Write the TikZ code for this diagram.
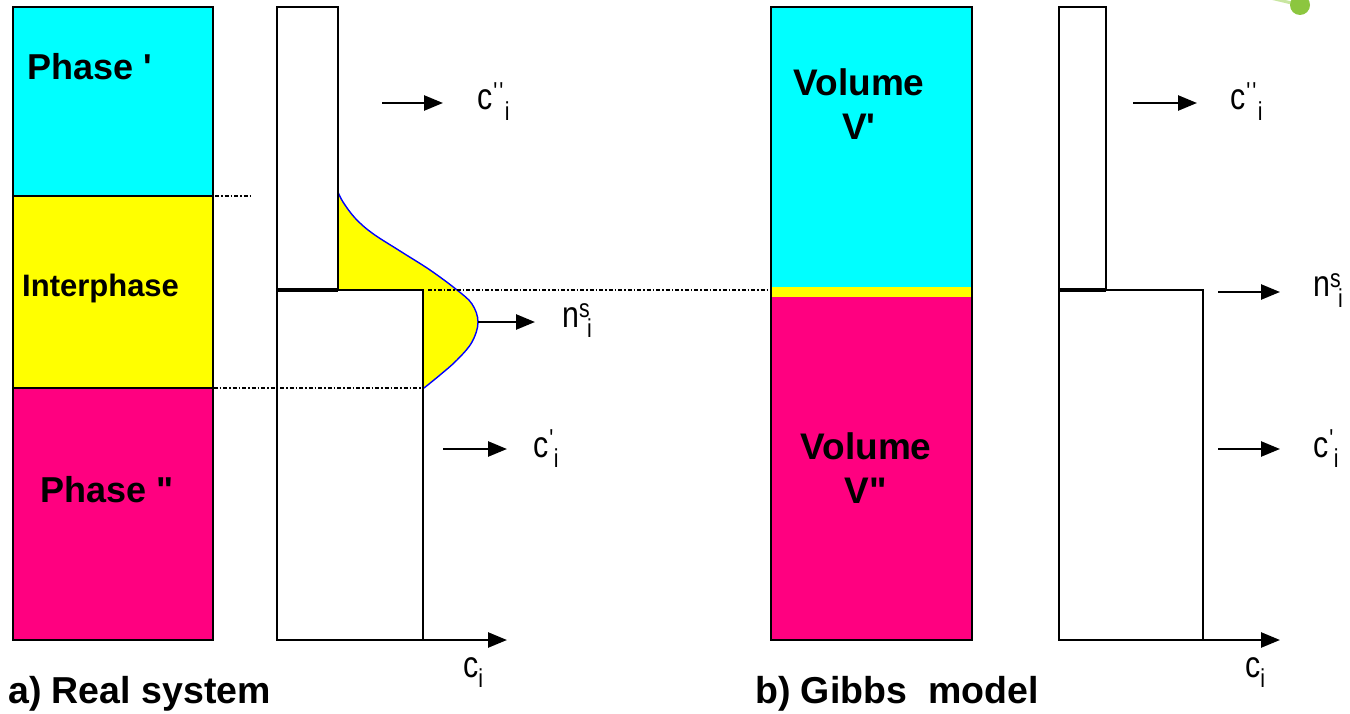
\documentclass[tikz,border=0pt]{standalone}
\usepackage{fontspec}
\setmainfont{Liberation Sans}[Ligatures=TeXOff]
\newfontfamily\narrowsans{Liberation Sans}[Ligatures=TeXOff,FakeStretch=0.82]
\usetikzlibrary{arrows.meta}
\definecolor{cy}{HTML}{00FFFF}
\definecolor{ye}{HTML}{FFFF00}
\definecolor{ma}{HTML}{FF0080}
\definecolor{gr}{HTML}{8CC63F}
\definecolor{lgr}{HTML}{C8E6A0}
\newcommand\cpp{c\kern1pt\textsuperscript{'\kern2pt'}\kern1pt\textsubscript{i}}
\newcommand\cpr{c\kern1pt\textsuperscript{'}\textsubscript{i}}
\newcommand\nsi{n\textsuperscript{s}\kern-3pt\textsubscript{i}}
\newcommand\cii{c\textsubscript{i}}
\begin{document}
\begin{tikzpicture}[x=1pt,y=-1pt,
  box/.style={draw=black,line width=2.6pt},
  arr/.style={line width=2.5pt,-{Triangle[length=19pt,width=15pt]}},
  dotl/.style={line width=1.9pt,dash pattern=on 4pt off 2pt on 1.5pt off 2pt},
  big/.style={font=\fontsize{36}{44}\selectfont\bfseries,inner sep=0pt,anchor=base west},
  captext/.style={font=\fontsize{37.5}{44}\selectfont\bfseries,inner sep=0pt,anchor=base west},
  lab/.style={font=\narrowsans\fontsize{37}{40}\selectfont,inner sep=0pt,anchor=base west},
  vol/.style={font=\fontsize{37}{44}\selectfont\bfseries,inner sep=0pt,align=center,anchor=base}]
\useasboundingbox (0,0) rectangle (1350,714);
\fill[white] (0,0) rectangle (1350,714);

% ---------- a) Real system: phases column
\fill[cy] (13,7) rectangle (213,196);
\fill[ye] (13,196) rectangle (213,388);
\fill[ma] (13,388) rectangle (213,640);
\draw[box] (13,7) rectangle (213,640);
\draw[box] (13,196) -- (213,196);
\draw[box] (13,388) -- (213,388);
\node[big] (ph1) at (27,80) {Phase '};
\node[font=\fontsize{31}{34}\selectfont\bfseries,inner sep=0pt,anchor=base west] (inter) at (22,297) {Interphase};
\node[big] (ph2) at (40,502) {Phase "};

% ---------- a) concentration profile
\fill[ye] plot[smooth,tension=0.6] coordinates {(338,192) (343,202) (355,218) (372,233) (400,251) (430,270) (457,290) (472,304) (478,322) (472,342) (457,360) (440,375) (424,388)}
  -- (423,290) -- (338,290) -- cycle;
\draw[blue,line width=1.4pt] plot[smooth,tension=0.6] coordinates {(338,192) (343,202) (355,218) (372,233) (400,251) (430,270) (457,290) (472,304) (478,322) (472,342) (457,360) (440,375) (424,388)};
\draw[box] (277,7) rectangle (338,290);
\draw[box] (277,290) rectangle (423,640);
\draw[line width=4pt] (277,290) -- (338,290);

\draw[dotl] (215,196) -- (252,196);
\draw[dotl] (185,388) -- (423,388);
\draw[dotl] (428,290) -- (771,290);

\coordinate (a1s) at (382,103); \coordinate (a1e) at (443,103);
\coordinate (a2s) at (478,322); \coordinate (a2e) at (535,322);
\coordinate (a3s) at (443,449); \coordinate (a3e) at (507,449);
\coordinate (a4s) at (421,640); \coordinate (a4e) at (507,640);
\draw[arr] (a1s) -- (a1e);
\draw[arr] (a2s) -- (a2e);
\draw[arr] (a3s) -- (a3e);
\draw[arr] (a4s) -- (a4e);
\node[lab] (lc2) at (477,110) {\cpp};
\node[lab] (lns) at (562,327) {\nsi};
\node[lab] (lc1) at (533,457) {\cpr};
\node[lab] (lci) at (463,677) {\cii};

\node[captext] (capa) at (8,703) {a) Real system};

% ---------- b) Gibbs model column
\fill[cy] (771,7) rectangle (972,287);
\fill[ye] (771,287) rectangle (972,297);
\fill[ma] (771,297) rectangle (972,640);
\draw[box] (771,7) rectangle (972,640);
\node[vol] (v1) at (859,140) {Volume\\V'};
\node[vol] (v2) at (866,503) {Volume\\V"};

% ---------- b) profile
\draw[box] (1059,7) rectangle (1106,290);
\draw[box] (1059,290) rectangle (1203,640);
\draw[line width=4pt] (1059,290) -- (1106,290);

\coordinate (b1s) at (1133,103); \coordinate (b1e) at (1197,103);
\coordinate (b2s) at (1218,292); \coordinate (b2e) at (1280,292);
\coordinate (b3s) at (1218,449); \coordinate (b3e) at (1280,449);
\coordinate (b4s) at (1200,640); \coordinate (b4e) at (1280,640);
\draw[arr] (b1s) -- (b1e);
\draw[arr] (b2s) -- (b2e);
\draw[arr] (b3s) -- (b3e);
\draw[arr] (b4s) -- (b4e);
\node[lab] (rc2) at (1230,110) {\cpp};
\node[lab] (rns) at (1313,297) {\nsi};
\node[lab] (rc1) at (1313,457) {\cpr};
\node[lab] (rci) at (1245,677) {\cii};

\node[captext] (capb) at (755,703) {b) Gibbs\ \ model};

% ---------- decoration
\draw[lgr,line width=3pt] (1262,-4) -- (1300,5);
\fill[gr] (1300,5) circle (10);
\end{tikzpicture}
\end{document}
